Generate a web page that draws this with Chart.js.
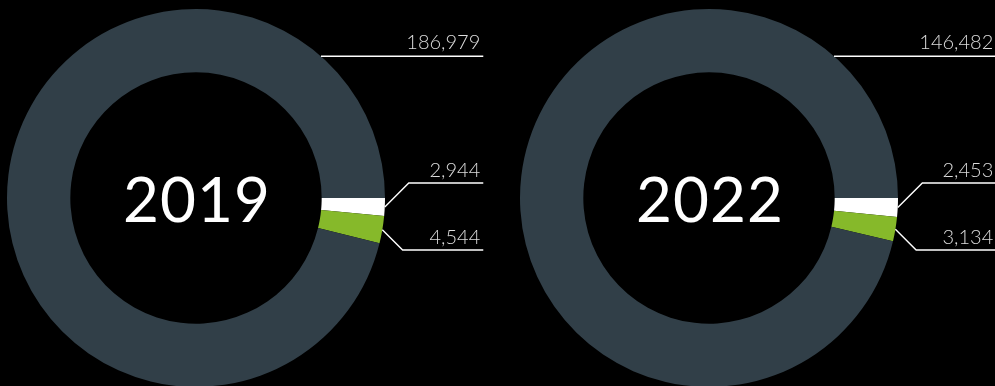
<!DOCTYPE html>
<html>
<head>
<meta charset="utf-8">
<script src="https://cdn.jsdelivr.net/npm/chart.js@4.4.1/dist/chart.umd.min.js"></script>
<style>
  html, body { margin: 0; padding: 0; background: #000; overflow: hidden; }
  #wrap { position: relative; width: 995px; height: 386px; }
  canvas { position: absolute; top: 0; }
  #c2019 { left: 0; }
  #c2022 { left: 513px; }
</style>
</head>
<body>
<div id="wrap">
  <canvas id="c2019" width="513" height="387"></canvas>
  <canvas id="c2022" width="482" height="387"></canvas>
</div>
<script>
// dados
const years = ["2019", "2022"];
const categories = ["Segmento B", "Segmento C", "Segmento A"];
const whiteValues = [2944, 2453];
const greenValues = [4544, 3134];
const mainValues = [186979, 146482];
const sliceColors = ["#ffffff", "#86b92a", "#313f48"];

// linhas de chamada + texto central
const calloutPlugin = {
  id: "callouts",
  afterDraw(chart) {
    const ctx = chart.ctx;
    const arcs = chart.getDatasetMeta(0).data;
    const values = chart.data.datasets[0].data;
    const cx = arcs[0].x, cy = arcs[0].y;
    const R = arcs[0].outerRadius;
    const endX = cx + R * 1.52;
    const textX = endX - 3;
    const fmt = (v) => v.toLocaleString("en-US");

    ctx.save();
    ctx.strokeStyle = "#ffffff";
    ctx.lineWidth = 1.4;
    ctx.fillStyle = "#dcdcdc";
    ctx.font = "300 20px Lato, 'Open Sans', sans-serif";
    ctx.textAlign = "right";
    ctx.textBaseline = "alphabetic";

    // fatia grande: linha horizontal
    const dy = R * 0.75;
    const y0 = cy - dy;
    const x0 = cx + Math.sqrt(R * R - dy * dy);
    ctx.beginPath();
    ctx.moveTo(x0, y0);
    ctx.lineTo(endX, y0);
    ctx.stroke();
    ctx.fillText(fmt(values[2]), textX, y0 - 7);

    // fatias pequenas: linha com cotovelo
    [0, 1].forEach((i) => {
      const a = arcs[i];
      const mid = (a.startAngle + a.endAngle) / 2;
      const ax = cx + R * Math.cos(mid);
      const ay = cy + R * Math.sin(mid);
      const ey = i === 0 ? cy - 15 : cy + 52;
      const ex = ax + Math.abs(ey - ay);
      ctx.beginPath();
      ctx.moveTo(ax, ay);
      ctx.lineTo(ex, ey);
      ctx.lineTo(endX, ey);
      ctx.stroke();
      ctx.fillText(fmt(values[i]), textX, ey - 6);
    });

    // ano no centro
    ctx.fillStyle = "#ffffff";
    ctx.textAlign = "center";
    ctx.textBaseline = "middle";
    ctx.font = "400 62px Lato, sans-serif";
    if ("letterSpacing" in ctx) ctx.letterSpacing = "1px";
    ctx.fillText(chart.options.plugins.title.text, cx + 1, cy + 4);
    ctx.restore();
  },
};

function makeChart(canvasId, idx, padRight) {
  return new Chart(document.getElementById(canvasId), {
    type: "doughnut",
    data: {
      labels: categories,
      datasets: [
        {
          data: [whiteValues[idx], greenValues[idx], mainValues[idx]],
          backgroundColor: sliceColors,
          borderWidth: 0,
        },
      ],
    },
    options: {
      responsive: false,
      animation: false,
      rotation: 90,
      cutout: "66.5%",
      layout: { padding: { top: 9, left: 0, right: padRight, bottom: 0 } },
      plugins: {
        legend: { display: false },
        tooltip: { enabled: false },
        title: { display: false, text: years[idx] },
      },
    },
    plugins: [calloutPlugin],
  });
}

makeChart("c2019", 0, 121);
makeChart("c2022", 1, 90);
</script>
</body>
</html>
